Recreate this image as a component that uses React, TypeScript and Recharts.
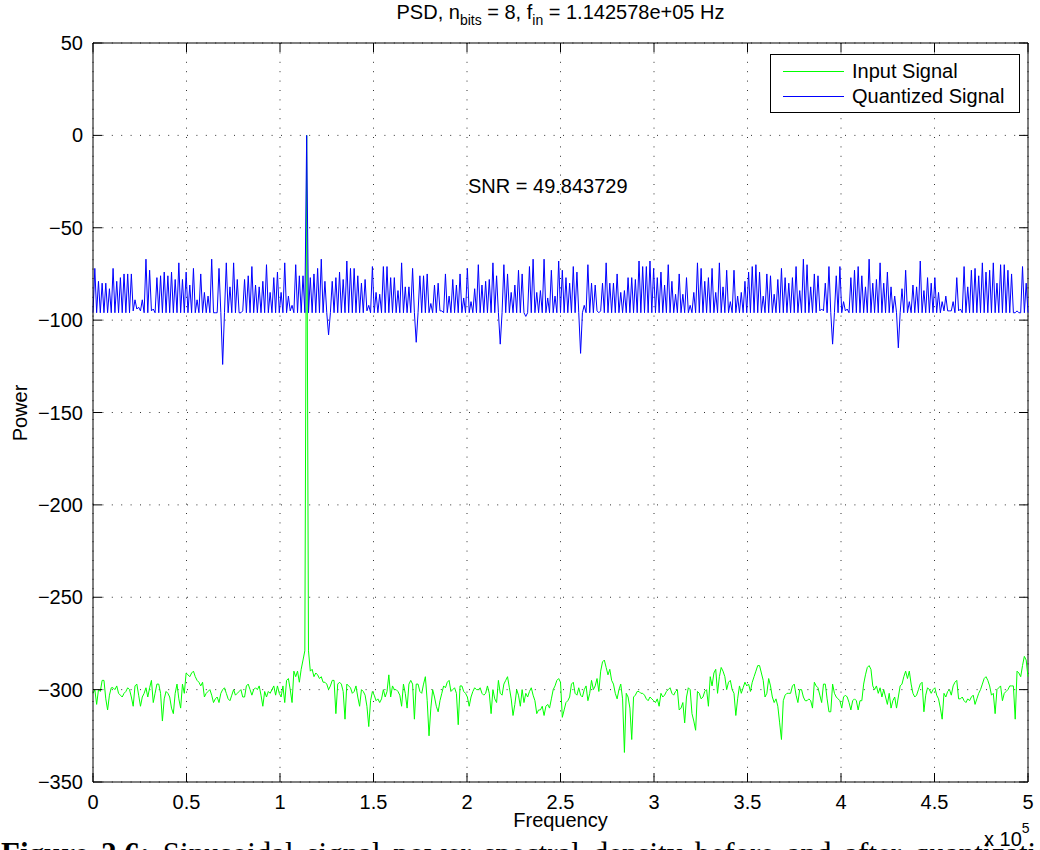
import {
  CartesianGrid,
  Line,
  LineChart,
  ReferenceLine,
  XAxis,
  YAxis
} from "recharts";

// FFT bin spacing of the spectrum (fs = 1 MHz, N = 1024)
const frequencyBinHz = 976.5625;

// Input signal PSD, one value per bin (0 .. 512)
const inputPower = [
  -302, -300, -308, -300, -301, -295, -295, -305, -311, -303, -299, -299, -300, -298, -302, -303,
  -304, -302, -301, -299, -300, -304, -309, -298, -297, -303, -309, -304, -302, -299, -304, -299,
  -295, -307, -302, -297, -297, -302, -317, -305, -301, -302, -304, -310, -313, -302, -297, -305,
  -310, -297, -302, -291, -292, -293, -291, -290, -293, -295, -296, -298, -296, -304, -302, -301,
  -300, -303, -307, -305, -304, -307, -302, -300, -299, -302, -305, -306, -303, -300, -303, -302,
  -301, -300, -304, -304, -298, -297, -300, -303, -300, -299, -300, -298, -303, -309, -301, -304,
  -301, -302, -300, -298, -303, -298, -302, -304, -298, -307, -295, -294, -300, -307, -290, -293,
  -290, -296, -289, -284, -279, 0, -279, -290, -289, -293, -291, -292, -294, -293, -296, -296,
  -297, -300, -298, -295, -295, -313, -297, -296, -297, -301, -316, -297, -298, -299, -302, -301,
  -298, -304, -309, -300, -301, -303, -309, -320, -306, -301, -303, -306, -305, -307, -305, -300,
  -304, -301, -292, -304, -298, -300, -300, -301, -303, -309, -297, -302, -310, -297, -295, -297,
  -316, -297, -297, -301, -302, -297, -293, -306, -325, -310, -300, -304, -309, -312, -306, -302,
  -298, -299, -296, -295, -301, -300, -299, -302, -319, -298, -298, -301, -302, -304, -309, -304,
  -301, -299, -300, -300, -299, -302, -303, -302, -298, -302, -313, -300, -305, -307, -295, -302,
  -303, -297, -295, -293, -299, -305, -314, -308, -300, -303, -309, -300, -307, -302, -304, -301,
  -299, -303, -306, -313, -311, -311, -309, -314, -309, -308, -310, -305, -300, -298, -295, -294,
  -296, -315, -311, -307, -306, -304, -297, -296, -302, -303, -299, -303, -304, -300, -298, -306,
  -302, -295, -300, -298, -294, -301, -290, -285, -284, -288, -292, -289, -295, -297, -302, -305,
  -300, -297, -305, -334, -302, -304, -310, -327, -304, -303, -301, -301, -302, -302, -303, -305,
  -306, -304, -305, -306, -307, -305, -309, -302, -304, -303, -301, -300, -299, -302, -303, -301,
  -300, -311, -310, -307, -318, -304, -299, -300, -313, -317, -322, -301, -302, -305, -304, -301,
  -300, -309, -293, -298, -291, -289, -302, -293, -288, -290, -293, -300, -296, -295, -300, -302,
  -314, -305, -298, -302, -299, -296, -298, -297, -301, -296, -293, -290, -287, -287, -291, -295,
  -304, -302, -294, -298, -304, -307, -305, -309, -318, -327, -306, -303, -302, -302, -302, -298,
  -297, -303, -307, -300, -300, -304, -306, -306, -305, -306, -310, -296, -298, -299, -303, -307,
  -297, -297, -305, -312, -312, -297, -302, -304, -305, -306, -310, -304, -303, -304, -307, -311,
  -306, -305, -306, -311, -306, -306, -297, -292, -288, -287, -289, -298, -300, -298, -302, -299,
  -304, -300, -304, -308, -302, -310, -306, -304, -310, -304, -298, -297, -293, -290, -294, -290,
  -297, -302, -304, -303, -300, -297, -296, -312, -303, -299, -300, -302, -300, -299, -303, -305,
  -310, -316, -302, -304, -301, -300, -303, -298, -296, -295, -305, -305, -304, -306, -307, -305,
  -306, -304, -303, -308, -305, -302, -300, -297, -294, -293, -295, -298, -303, -302, -313, -300,
  -299, -298, -306, -302, -301, -300, -298, -298, -298, -316, -290, -291, -293, -287, -282, -284,
  -293
];

// Quantized (8-bit) signal PSD, one value per bin (0 .. 512)
const quantizedPower = [
  -96, -72, -96, -79, -96, -80, -96, -80, -96, -83, -96, -72, -96, -79, -96, -77,
  -96, -75, -96, -75, -96, -75, -95, -89, -94, -93, -95, -89, -96, -67, -96, -73,
  -95, -94, -96, -77, -96, -76, -96, -74, -96, -76, -96, -74, -96, -78, -96, -69,
  -96, -78, -96, -74, -96, -81, -96, -72, -96, -89, -96, -75, -96, -85, -96, -87,
  -96, -67, -96, -96, -96, -72, -96, -124, -96, -69, -96, -82, -96, -69, -96, -78,
  -96, -96, -95, -78, -96, -76, -96, -71, -96, -81, -96, -82, -96, -79, -96, -70,
  -96, -85, -96, -77, -96, -74, -96, -85, -96, -69, -96, -87, -95, -92, -96, -70,
  -96, -76, -96, -76, -96, 0, -96, -77, -96, -75, -96, -72, -96, -67, -96, -79,
  -96, -108, -96, -79, -96, -77, -96, -74, -96, -78, -96, -68, -96, -72, -96, -72,
  -96, -76, -96, -80, -96, -78, -95, -92, -96, -71, -96, -85, -96, -86, -96, -71,
  -96, -71, -96, -77, -96, -77, -96, -84, -96, -69, -96, -82, -96, -82, -96, -72,
  -96, -112, -96, -76, -96, -76, -96, -75, -96, -91, -96, -81, -96, -80, -95, -95,
  -96, -75, -96, -87, -96, -78, -96, -81, -96, -75, -96, -88, -96, -72, -96, -90,
  -96, -83, -96, -70, -96, -81, -96, -79, -96, -78, -96, -69, -96, -76, -96, -113,
  -96, -70, -96, -75, -96, -85, -96, -81, -96, -73, -96, -75, -96, -98, -96, -71,
  -96, -67, -96, -85, -96, -84, -96, -67, -96, -88, -96, -73, -96, -87, -96, -68,
  -96, -73, -96, -77, -96, -80, -96, -71, -96, -74, -96, -118, -96, -92, -96, -70,
  -96, -80, -96, -81, -95, -96, -95, -80, -96, -69, -96, -80, -96, -80, -96, -75,
  -96, -85, -96, -84, -96, -77, -96, -77, -96, -78, -96, -68, -96, -71, -96, -71,
  -96, -68, -96, -72, -96, -77, -96, -74, -96, -81, -96, -70, -96, -79, -96, -86,
  -96, -75, -96, -86, -96, -77, -96, -92, -96, -85, -96, -69, -96, -72, -96, -79,
  -96, -77, -96, -72, -96, -85, -96, -69, -96, -82, -96, -73, -96, -90, -96, -73,
  -96, -87, -96, -85, -96, -79, -96, -74, -96, -71, -96, -70, -96, -74, -96, -87,
  -96, -75, -96, -76, -96, -86, -96, -78, -96, -72, -96, -77, -96, -80, -96, -77,
  -96, -71, -96, -84, -96, -67, -96, -70, -96, -82, -96, -75, -96, -76, -95, -94,
  -95, -80, -96, -71, -96, -113, -96, -76, -96, -71, -96, -90, -95, -94, -96, -77,
  -96, -73, -96, -71, -96, -76, -96, -82, -96, -67, -96, -80, -96, -78, -96, -69,
  -96, -80, -96, -74, -96, -82, -96, -87, -96, -115, -96, -83, -96, -73, -96, -90,
  -96, -81, -96, -82, -96, -68, -96, -84, -96, -77, -96, -80, -96, -77, -96, -85,
  -96, -90, -95, -87, -95, -95, -95, -90, -96, -77, -95, -94, -96, -71, -96, -82,
  -96, -73, -96, -72, -96, -76, -96, -69, -96, -74, -96, -73, -96, -69, -96, -80,
  -96, -70, -96, -70, -96, -73, -96, -75, -96, -96, -95, -96, -96, -71, -96, -80,
  -96
];

const xTicks = [0, 50000, 100000, 150000, 200000, 250000, 300000, 350000, 400000, 450000, 500000];
const xTickLabels = ["0", "0.5", "1", "1.5", "2", "2.5", "3", "3.5", "4", "4.5", "5"];
const yTicks = [-350, -300, -250, -200, -150, -100, -50, 0, 50];
const yTickLabels = ["\u2212350", "\u2212300", "\u2212250", "\u2212200", "\u2212150", "\u2212100", "\u221250", "0", "50"];

const FONT = '"Liberation Sans", Arial, Helvetica, sans-serif';
const PLOT_LEFT = 93;
const PLOT_RIGHT = 1028;
const PLOT_TOP = 43;
const PLOT_BOTTOM = 782;
const TICK_LEN = 9;

const data = inputPower.map((v, i) => ({
  freq: i * frequencyBinHz,
  input: v,
  quantized: quantizedPower[i]
}));

// MATLAB style: ticks point inwards, on both sides of the box
function FreqTick(props: any) {
  const { x, payload } = props;
  const label = xTickLabels[xTicks.indexOf(payload.value)];
  return (
    <g>
      <line x1={x} x2={x} y1={PLOT_BOTTOM} y2={PLOT_BOTTOM - TICK_LEN} stroke="#000" />
      <line x1={x} x2={x} y1={PLOT_TOP} y2={PLOT_TOP + TICK_LEN} stroke="#000" />
      <text x={x} y={PLOT_BOTTOM + 27} textAnchor="middle" fontSize={20} fontFamily={FONT} fill="#000">
        {label}
      </text>
    </g>
  );
}

function PowerTick(props: any) {
  const { y, payload } = props;
  const label = yTickLabels[yTicks.indexOf(payload.value)];
  return (
    <g>
      <line x1={PLOT_LEFT} x2={PLOT_LEFT + TICK_LEN} y1={y} y2={y} stroke="#000" />
      <line x1={PLOT_RIGHT - TICK_LEN} x2={PLOT_RIGHT} y1={y} y2={y} stroke="#000" />
      <text x={PLOT_LEFT - 10} y={y + 7} textAnchor="end" fontSize={20} fontFamily={FONT} fill="#000">
        {label}
      </text>
    </g>
  );
}

const overlayText = {
  position: "absolute" as const,
  fontFamily: FONT,
  fontSize: 20,
  lineHeight: "20px",
  color: "#000",
  whiteSpace: "nowrap" as const
};

export default function App() {
  return (
    <div
      style={{
        position: "absolute",
        left: 0,
        top: 0,
        width: 1040,
        height: 850,
        overflow: "hidden",
        background: "#fff"
      }}
    >
      <LineChart
        width={1040}
        height={850}
        data={data}
        margin={{ top: PLOT_TOP, right: 1040 - PLOT_RIGHT, bottom: 28, left: 0 }}
      >
        <CartesianGrid stroke="#333" strokeDasharray="1 8.4" />
        <XAxis
          dataKey="freq"
          type="number"
          domain={[0, 500000]}
          ticks={xTicks}
          interval={0}
          height={40}
          tickLine={false}
          tickSize={0}
          axisLine={{ stroke: "#000" }}
          tick={<FreqTick />}
        />
        <YAxis
          type="number"
          domain={[-350, 50]}
          ticks={yTicks}
          interval={0}
          width={PLOT_LEFT}
          tickLine={false}
          tickSize={0}
          axisLine={{ stroke: "#000" }}
          tick={<PowerTick />}
        />
        <ReferenceLine y={50} stroke="#000" />
        <ReferenceLine x={500000} stroke="#000" />
        <Line
          type="linear"
          dataKey="input"
          name="Input Signal"
          stroke="#00ff00"
          strokeWidth={1}
          dot={false}
          activeDot={false}
          isAnimationActive={false}
        />
        <Line
          type="linear"
          dataKey="quantized"
          name="Quantized Signal"
          stroke="#0000ff"
          strokeWidth={1}
          dot={false}
          activeDot={false}
          isAnimationActive={false}
        />
      </LineChart>

      {/* title */}
      <div style={{ ...overlayText, left: PLOT_LEFT, width: PLOT_RIGHT - PLOT_LEFT, top: 2, textAlign: "center" }}>
        PSD, n<span style={{ fontSize: 14, verticalAlign: -6 }}>bits</span> = 8, f
        <span style={{ fontSize: 14, verticalAlign: -6 }}>in</span> = 1.142578e+05 Hz
      </div>

      {/* annotation */}
      <div style={{ ...overlayText, left: 468, top: 176 }}>SNR = 49.843729</div>

      {/* legend */}
      <div
        style={{
          position: "absolute",
          left: 770,
          top: 54,
          width: 250,
          height: 59,
          boxSizing: "border-box",
          border: "1px solid #000",
          background: "#fff"
        }}
      >
        <div style={{ position: "absolute", left: 12, top: 16, width: 61, height: 1, background: "#00ff00" }} />
        <div style={{ ...overlayText, left: 81, top: 6 }}>Input Signal</div>
        <div style={{ position: "absolute", left: 12, top: 41, width: 61, height: 1, background: "#0000ff" }} />
        <div style={{ ...overlayText, left: 81, top: 31 }}>Quantized Signal</div>
      </div>

      {/* axis labels */}
      <div
        style={{
          ...overlayText,
          lineHeight: "16px",
          left: PLOT_LEFT,
          width: PLOT_RIGHT - PLOT_LEFT,
          top: 812,
          textAlign: "center"
        }}
      >
        Frequency
      </div>
      <div
        style={{
          ...overlayText,
          left: 20 - 40,
          top: 413 - 10,
          width: 80,
          textAlign: "center",
          transform: "rotate(-90deg)"
        }}
      >
        Power
      </div>
      <div style={{ ...overlayText, left: 984, top: 818 }}>
        x 10<span style={{ fontSize: 14, verticalAlign: 13 }}>5</span>
      </div>

      {/* figure caption, cut by the page edge */}
      <div
        style={{
          position: "absolute",
          left: 1,
          top: 838,
          fontFamily: '"Liberation Serif", "Times New Roman", serif',
          fontSize: 31,
          lineHeight: "31px",
          wordSpacing: 5,
          whiteSpace: "nowrap",
          color: "#000"
        }}
      >
        <b>Figure 2.6:</b> Sinusoidal signal power spectral density before and after quantization
      </div>
    </div>
  );
}
